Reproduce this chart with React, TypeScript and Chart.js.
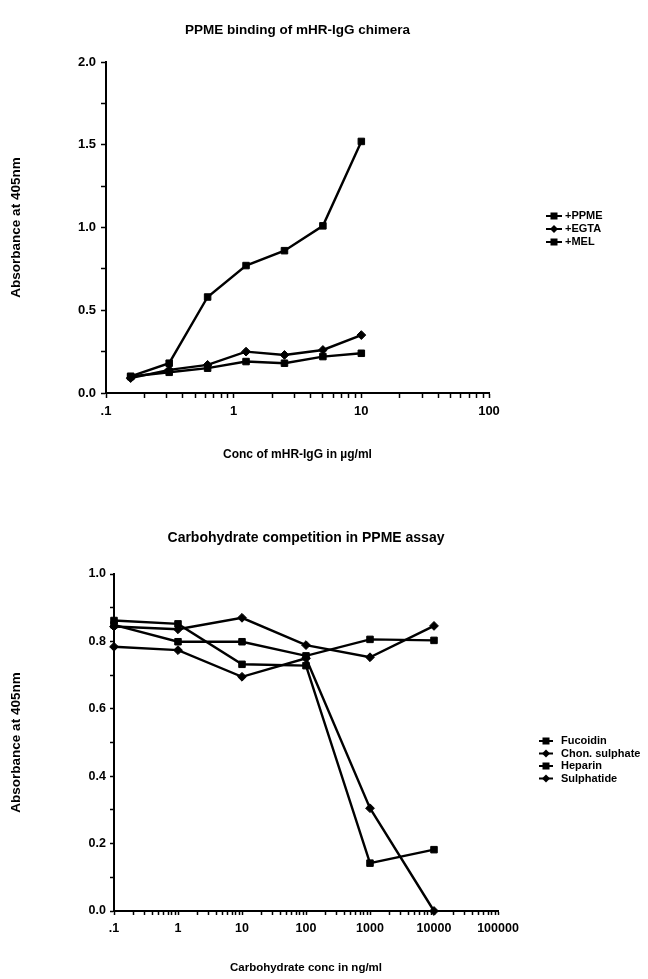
import React, { useEffect, useRef } from 'react';
import { Chart, registerables } from 'chart.js';

Chart.register(...registerables);

const FONT = '"Liberation Sans", Arial, Helvetica, sans-serif';

// ---------- Top chart data ----------
const topTitle = 'PPME binding of mHR-IgG chimera';
const topXTitle = 'Conc of mHR-IgG in µg/ml';
const yTitleText = 'Absorbance at 405nm';
const topConc = [0.156, 0.3125, 0.625, 1.25, 2.5, 5, 10];
const topSeriesLabels = ['+PPME', '+EGTA', '+MEL'];
const topSeriesStyles = ['rect', 'rectRot', 'rect'];
const ppme = [0.10, 0.18, 0.58, 0.77, 0.86, 1.01, 1.52];
const egta = [0.09, 0.14, 0.17, 0.25, 0.23, 0.26, 0.35];
const mel = [0.10, 0.125, 0.15, 0.19, 0.18, 0.22, 0.24];
const topXMajor = [0.1, 1, 10, 100];
const topXLabels = ['.1', '1', '10', '100'];
const topYLabels = ['0.0', '0.5', '1.0', '1.5', '2.0'];

// ---------- Bottom chart data ----------
const botTitle = 'Carbohydrate competition in PPME assay';
const botXTitle = 'Carbohydrate conc in ng/ml';
const botConc = [0.1, 1, 10, 100, 1000, 10000];
const botSeriesLabels = ['Fucoidin', 'Chon. sulphate', 'Heparin', 'Sulphatide'];
const botSeriesStyles = ['rect', 'rectRot', 'rect', 'rectRot'];
const fucoidin = [0.862, 0.852, 0.732, 0.728, 0.142, 0.182];
const chonSulphate = [0.784, 0.774, 0.695, 0.75, 0.305, 0.0];
const heparin = [0.849, 0.799, 0.799, 0.757, 0.806, 0.803];
const sulphatide = [0.844, 0.836, 0.870, 0.789, 0.753, 0.846];
const botXMajor = [0.1, 1, 10, 100, 1000, 10000, 100000];
const botXLabels = ['.1', '1', '10', '100', '1000', '10000', '100000'];
const botYLabels = ['0.0', '0.2', '0.4', '0.6', '0.8', '1.0'];

function logTickValues(majors: number[]) {
  const v: number[] = [];
  majors.forEach((m, i) => {
    if (i === majors.length - 1) {
      v.push(m);
      return;
    }
    for (let k = 1; k <= 9; k++) v.push(m * k);
  });
  return v;
}

function majorLabel(value: number, majors: number[], labels: string[]) {
  const i = majors.findIndex((m) => Math.abs(value / m - 1) < 1e-6);
  return i >= 0 ? labels[i] : '';
}

const sideLegendPlugin = {
  id: 'sideLegend',
  afterDraw(chart: any, _args: any, opts: any) {
    const { ctx } = chart;
    ctx.save();
    ctx.font = opts.font;
    ctx.fillStyle = '#000';
    ctx.strokeStyle = '#000';
    ctx.textBaseline = 'middle';
    ctx.textAlign = 'left';
    chart.data.datasets.forEach((ds: any, i: number) => {
      const y = opts.y + i * opts.dy;
      const x = opts.x;
      ctx.lineWidth = 2;
      ctx.beginPath();
      ctx.moveTo(x - opts.half, y);
      ctx.lineTo(x + opts.half, y);
      ctx.stroke();
      if (ds.pointStyle === 'rect') {
        const s = 3.5;
        ctx.fillRect(x - s, y - s, 2 * s, 2 * s);
      } else {
        const r = 4;
        ctx.beginPath();
        ctx.moveTo(x, y - r);
        ctx.lineTo(x + r, y);
        ctx.lineTo(x, y + r);
        ctx.lineTo(x - r, y);
        ctx.closePath();
        ctx.fill();
      }
      ctx.fillText(ds.label, opts.textX, y);
    });
    ctx.restore();
  },
};

interface Spec {
  title: string;
  titleSize: number;
  titlePadTop: number;
  titlePadBottom: number;
  xTitle: string;
  xTitleSize: number;
  xTitlePadBottom: number;
  yTitleSize: number;
  yTitlePadTop: number;
  conc: number[];
  series: number[][];
  labels: string[];
  styles: string[];
  xMajor: number[];
  xLabels: string[];
  yMax: number;
  yStep: number;
  yLabelEvery: number;
  yLabels: string[];
  tickSize: number;
  tickLength: number;
  xTickPad: number;
  yTickPad: number;
  padRight: number;
  xAxisHeight: number;
  yAxisWidth: number;
  legend: any;
}

function buildConfig(s: Spec): any {
  const xTicks = logTickValues(s.xMajor);
  return {
    type: 'line',
    data: {
      datasets: s.series.map((vals, i) => ({
        label: s.labels[i],
        data: s.conc.map((x, j) => ({ x, y: vals[j] })),
        borderColor: '#000',
        backgroundColor: '#000',
        pointBackgroundColor: '#000',
        pointBorderColor: '#000',
        pointBorderWidth: 1,
        borderWidth: 2.4,
        pointStyle: s.styles[i],
        pointRadius: s.styles[i] === 'rect' ? 4.6 : 4.4,
        tension: 0,
        fill: false,
        clip: false,
      })),
    },
    options: {
      responsive: false,
      animation: false,
      events: [],
      layout: { padding: { left: 0, right: s.padRight, top: 0, bottom: 0 } },
      plugins: {
        legend: { display: false },
        tooltip: { enabled: false },
        title: {
          display: true,
          text: s.title,
          fullSize: false,
          color: '#000',
          font: { family: FONT, size: s.titleSize, weight: 'bold', lineHeight: 1.2 },
          padding: { top: s.titlePadTop, bottom: s.titlePadBottom },
        },
        sideLegend: s.legend,
      },
      scales: {
        x: {
          type: 'logarithmic',
          min: s.xMajor[0],
          max: s.xMajor[s.xMajor.length - 1],
          afterBuildTicks: (scale: any) => {
            scale.ticks = xTicks.map((v) => ({ value: v }));
          },
          afterFit: (scale: any) => {
            scale.height = s.xAxisHeight;
          },
          ticks: {
            autoSkip: false,
            maxRotation: 0,
            minRotation: 0,
            color: '#000',
            padding: s.xTickPad,
            font: { family: FONT, size: s.tickSize, weight: 'bold' },
            callback: (v: number) => majorLabel(v, s.xMajor, s.xLabels),
          },
          grid: {
            drawOnChartArea: false,
            drawTicks: true,
            tickLength: s.tickLength,
            tickWidth: 1.5,
            tickColor: '#000',
            color: '#000',
          },
          border: { display: true, color: '#000', width: 2 },
          title: {
            display: true,
            text: s.xTitle,
            color: '#000',
            font: { family: FONT, size: s.xTitleSize, weight: 'bold', lineHeight: 1.2 },
            padding: { top: 0, bottom: s.xTitlePadBottom },
          },
        },
        y: {
          type: 'linear',
          min: 0,
          max: s.yMax,
          afterFit: (scale: any) => {
            scale.width = s.yAxisWidth;
          },
          ticks: {
            stepSize: s.yStep,
            autoSkip: false,
            color: '#000',
            padding: s.yTickPad,
            font: { family: FONT, size: s.tickSize, weight: 'bold' },
            callback: (v: number) => {
              const r = Math.round(v / s.yStep);
              return r % s.yLabelEvery === 0 ? s.yLabels[r / s.yLabelEvery] ?? '' : '';
            },
          },
          grid: {
            drawOnChartArea: false,
            drawTicks: true,
            tickLength: s.tickLength,
            tickWidth: 1.5,
            tickColor: '#000',
            color: '#000',
          },
          border: { display: true, color: '#000', width: 2 },
          title: {
            display: true,
            text: yTitleText,
            color: '#000',
            font: { family: FONT, size: s.yTitleSize, weight: 'bold', lineHeight: 1.2 },
            padding: { top: s.yTitlePadTop, bottom: 0 },
          },
        },
      },
    },
    plugins: [sideLegendPlugin],
  };
}

const topSpec: Spec = {
  title: topTitle,
  titleSize: 13.5,
  titlePadTop: 22,
  titlePadBottom: 23.8,
  xTitle: topXTitle,
  xTitleSize: 12,
  xTitlePadBottom: 27.8,
  yTitleSize: 13.5,
  yTitlePadTop: 8,
  conc: topConc,
  series: [ppme, egta, mel],
  labels: topSeriesLabels,
  styles: topSeriesStyles,
  xMajor: topXMajor,
  xLabels: topXLabels,
  yMax: 2,
  yStep: 0.25,
  yLabelEvery: 2,
  yLabels: topYLabels,
  tickSize: 13,
  tickLength: 5,
  xTickPad: 6,
  yTickPad: 5,
  padRight: 159,
  xAxisHeight: 97,
  yAxisWidth: 106,
  legend: { x: 554, half: 8, textX: 565, y: 216, dy: 13, font: `bold 11px ${FONT}` },
};

const botSpec: Spec = {
  title: botTitle,
  titleSize: 14,
  titlePadTop: 40,
  titlePadBottom: 27.2,
  xTitle: botXTitle,
  xTitleSize: 11.5,
  xTitlePadBottom: 4,
  yTitleSize: 13.5,
  yTitlePadTop: 8,
  conc: botConc,
  series: [fucoidin, chonSulphate, heparin, sulphatide],
  labels: botSeriesLabels,
  styles: botSeriesStyles,
  xMajor: botXMajor,
  xLabels: botXLabels,
  yMax: 1,
  yStep: 0.1,
  yLabelEvery: 2,
  yLabels: botYLabels,
  tickSize: 12.5,
  tickLength: 4,
  xTickPad: 6,
  yTickPad: 4,
  padRight: 150,
  xAxisHeight: 68,
  yAxisWidth: 114,
  legend: { x: 546, half: 7, textX: 561, y: 251, dy: 12.5, font: `bold 11px ${FONT}` },
};

function ChartCanvas({ spec, top, height }: { spec: Spec; top: number; height: number }) {
  const ref = useRef<HTMLCanvasElement | null>(null);
  useEffect(() => {
    if (!ref.current) return;
    const chart = new Chart(ref.current, buildConfig(spec));
    return () => chart.destroy();
  }, [spec]);
  return (
    <canvas
      ref={ref}
      width={648}
      height={height}
      style={{ position: 'absolute', left: 0, top, width: 648, height, display: 'block' }}
    />
  );
}

export default function App() {
  return (
    <div
      style={{
        position: 'absolute',
        left: 0,
        top: 0,
        width: 648,
        height: 979,
        background: '#fff',
        overflow: 'hidden',
      }}
    >
      <ChartCanvas spec={topSpec} top={0} height={490} />
      <ChartCanvas spec={botSpec} top={490} height={489} />
    </div>
  );
}
